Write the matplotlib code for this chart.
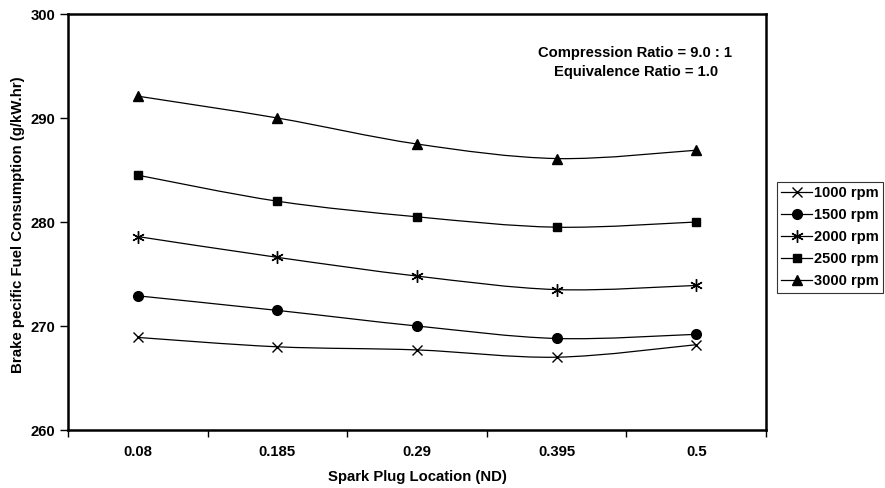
import numpy as np
import matplotlib
matplotlib.use('Agg')
import matplotlib.pyplot as plt
from matplotlib.path import Path
from matplotlib.patches import PathPatch

plt.rcParams['font.family'] = ['Liberation Sans', 'DejaVu Sans']
plt.rcParams['font.weight'] = 'bold'

# data
locations = ['0.08', '0.185', '0.29', '0.395', '0.5']
rpm_1000 = [268.9, 268.0, 267.7, 267.0, 268.2]
rpm_1500 = [272.9, 271.5, 270.0, 268.8, 269.2]
rpm_2000 = [278.6, 276.6, 274.8, 273.5, 273.9]
rpm_2500 = [284.5, 282.0, 280.5, 279.5, 280.0]
rpm_3000 = [292.1, 290.0, 287.5, 286.1, 286.9]

series = [
    ('1000 rpm', rpm_1000, 'x', 7),
    ('1500 rpm', rpm_1500, 'o', 7),
    ('2000 rpm', rpm_2000, (6, 2, 0), 9),
    ('2500 rpm', rpm_2500, 's', 5.5),
    ('3000 rpm', rpm_3000, '^', 7.5),
]


def smooth_path(xs, ys):
    # excel style smoothed line: bezier through the points
    pts = np.column_stack([xs, ys])
    n = len(pts)
    verts = [pts[0]]
    codes = [Path.MOVETO]
    for i in range(n - 1):
        p0 = pts[max(i - 1, 0)]
        p1 = pts[i]
        p2 = pts[i + 1]
        p3 = pts[min(i + 2, n - 1)]
        c1 = p1 + (p2 - p0) / 6.0
        c2 = p2 - (p3 - p1) / 6.0
        verts += [c1, c2, p2]
        codes += [Path.CURVE4] * 3
    return Path(verts, codes)


fig = plt.figure(figsize=(8.85, 4.88), dpi=100)
ax = fig.add_axes([68 / 885, 58 / 488, (766 - 68) / 885, (430 - 14) / 488])

xpos = np.arange(len(locations)) + 0.5
for name, vals, mk, ms in series:
    ax.add_patch(PathPatch(smooth_path(xpos, vals), facecolor='none',
                           edgecolor='black', lw=0.9))
    ax.plot(xpos, vals, color='black', lw=0.9, ls='none', marker=mk, ms=ms,
            mfc='black', mec='black', mew=1.0, label=name)

ax.set_xlim(0, len(locations))
ax.set_ylim(260, 300)
ax.set_yticks([260, 270, 280, 290, 300])
ax.set_xticks(np.arange(len(locations) + 1))
ax.set_xticklabels([])
ax.set_xticks(xpos, minor=True)
ax.set_xticklabels(locations, minor=True)
ax.tick_params(axis='x', which='minor', length=0, pad=11, labelsize=10.7)
ax.tick_params(axis='x', which='major', length=5, width=1, direction='out')
ax.tick_params(axis='y', length=6, width=1, direction='out', labelsize=10.7, pad=3)
for s in ax.spines.values():
    s.set_linewidth(1.8)

fig.text(417 / 885, 1 - 477 / 488, 'Spark Plug Location (ND)',
         ha='center', va='center', fontsize=10.7, fontweight='bold')
fig.text(18 / 885, 1 - 225 / 488, 'Brake pecific Fuel Consumption (g/kW.hr)',
         rotation=90, ha='center', va='center', fontsize=10.8, fontweight='bold')

fig.text(635 / 885, 1 - 53 / 488, 'Compression Ratio = 9.0 : 1',
         ha='center', va='center', fontsize=10.6, fontweight='bold')
fig.text(636 / 885, 1 - 72 / 488, 'Equivalence Ratio = 1.0',
         ha='center', va='center', fontsize=10.6, fontweight='bold')

leg = fig.legend(loc='upper left', bbox_to_anchor=(777 / 885, 1 - 182 / 488),
                 fontsize=10.5, frameon=True, fancybox=False, edgecolor='black',
                 handlelength=2.1, handletextpad=0.15, borderpad=0.3,
                 labelspacing=0.55, borderaxespad=0)
leg.get_frame().set_linewidth(0.8)
for h in leg.legend_handles:
    h.set_linestyle('-')
    h.set_linewidth(0.9)

fig.savefig('out.png', dpi=100)
